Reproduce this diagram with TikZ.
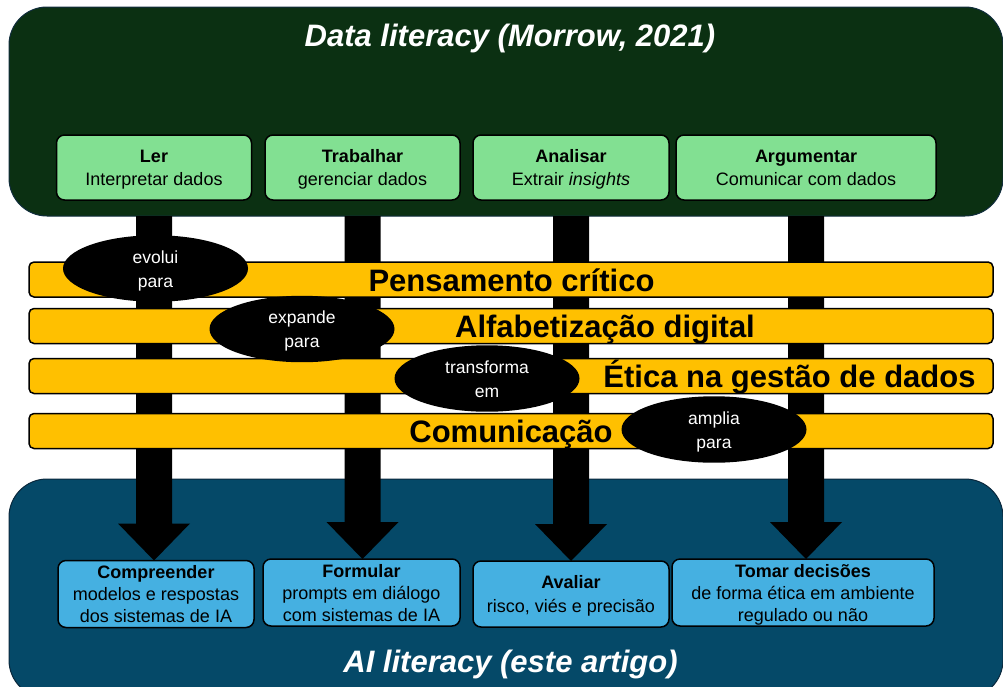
\documentclass[tikz,border=0pt]{standalone}
\usepackage{fontspec}
\setmainfont{Liberation Sans}
\usetikzlibrary{calc,shapes.geometric}
\definecolor{dlgreen}{RGB}{11,48,18}
\definecolor{dlborder}{RGB}{16,44,60}
\definecolor{alblue}{RGB}{5,73,104}
\definecolor{alborder}{RGB}{10,40,60}
\definecolor{lgreen}{RGB}{130,224,146}
\definecolor{lblue}{RGB}{69,176,225}
\definecolor{yel}{RGB}{255,192,0}
\newcommand\mystrut{\rule[-5pt]{0pt}{23pt}}
\begin{document}
\begin{tikzpicture}[x=1pt,y=-1pt,
  bigbox/.style={rounded corners=38pt, line width=1pt, inner sep=0pt, outer sep=0pt},
  titletext/.style={anchor=base, text=white, font=\fontsize{31}{36}\selectfont\bfseries\itshape},
  gbox/.style={rounded corners=8pt, draw=black, line width=1.5pt, fill=lgreen, align=center,
    font=\fontsize{18}{23}\selectfont, minimum height=65pt, inner sep=0pt, outer sep=0pt},
  bbox/.style={rounded corners=8pt, draw=black, line width=1.5pt, fill=lblue, align=center,
    font=\fontsize{18}{22}\selectfont, minimum height=66pt, inner sep=0pt, outer sep=0pt},
  band/.style={rounded corners=5pt, draw=black, line width=1.5pt, fill=yel,
    minimum width=964pt, minimum height=35pt, inner sep=0pt, outer sep=0pt},
  bandtext/.style={anchor=base, font=\fontsize{31}{36}\selectfont\bfseries},
  lbl/.style={ellipse, fill=black, text=white, minimum width=185pt, minimum height=63pt,
    inner sep=0pt, align=center, font=\fontsize{17.5}{22}\selectfont}
]
\useasboundingbox (0,0) rectangle (1003,686);

% frames
\node[bigbox, fill=dlgreen, draw=dlborder, minimum width=994pt, minimum height=209pt] (dl) at (506,111.5) {};
\node[bigbox, fill=alblue, draw=alborder, minimum width=994pt, minimum height=219pt] (al) at (506,588.5) {};
\node[titletext] (dlt) at (510,46) {Data literacy (Morrow, 2021)};
\node[titletext] (alt) at (510.5,672) {AI literacy (este artigo)};

% top boxes
\node[gbox, minimum width=195pt] (ler) at (154,167.5) {\mystrut\textbf{Ler}\\Interpretar dados\mystrut};
\node[gbox, minimum width=195pt] (trab) at (362.5,167.5) {\mystrut\textbf{Trabalhar}\\gerenciar dados\mystrut};
\node[gbox, minimum width=196pt] (anal) at (571,167.5) {\mystrut\textbf{Analisar}\\Extrair \textit{insights}\mystrut};
\node[gbox, minimum width=260pt] (arg) at (806,167.5) {\mystrut\textbf{Argumentar}\\Comunicar com dados\mystrut};

% bottom boxes
\node[bbox, minimum width=196pt] (comp) at (156,594) {\mystrut\textbf{Compreender}\\modelos e respostas\\dos sistemas de IA\mystrut};
\node[bbox, minimum width=197pt] (form) at (361.5,592.5) {\mystrut\textbf{Formular}\\prompts em diálogo\\com sistemas de IA\mystrut};
\node[bbox, minimum width=196pt] (aval) at (571,594) {\mystrut\textbf{Avaliar}\\risco, viés e precisão\mystrut};
\node[bbox, minimum width=262pt] (toma) at (803,592.5) {\mystrut\textbf{Tomar decisões}\\de forma ética em ambiente\\regulado ou não\mystrut};

% thick arrows
\foreach \a/\b in {ler/comp, trab/form, anal/aval, arg/toma}{
  \fill[black] ($(\a.south |- dl.south)+(-18,0)$) -- ($(\a.south |- dl.south)+(18,0)$)
    -- ($(\a.south |- \b.north)+(18,-37)$) -- ($(\a.south |- \b.north)+(36,-37)$)
    -- (\a.south |- \b.north)
    -- ($(\a.south |- \b.north)+(-36,-37)$) -- ($(\a.south |- \b.north)+(-18,-37)$) -- cycle;
}

% bands
\node[band] (b1) at (511,279.5) {};
\node[band] (b2) at (511,326) {};
\node[band] (b3) at (511,376) {};
\node[band] (b4) at (511,431) {};
\node[bandtext] (t1) at (511.5,291) {Pensamento crítico};
\node[bandtext] (t2) at (605,337) {Alfabetização digital};
\node[bandtext] (t3) at (789.5,387) {Ética na gestão de dados};
\node[bandtext] (t4) at (511,442) {Comunicação};

% ellipses
\node[lbl] (e1) at (155.5,268.5) {\mystrut evolui\\para\mystrut};
\node[lbl] (e2) at (302,329) {\mystrut expande\\para\mystrut};
\node[lbl] (e3) at (487,378.5) {\mystrut transforma\\em\mystrut};
\node[lbl, minimum height=65pt] (e4) at (714,429.5) {\mystrut amplia\\para\mystrut};
\end{tikzpicture}
\end{document}
